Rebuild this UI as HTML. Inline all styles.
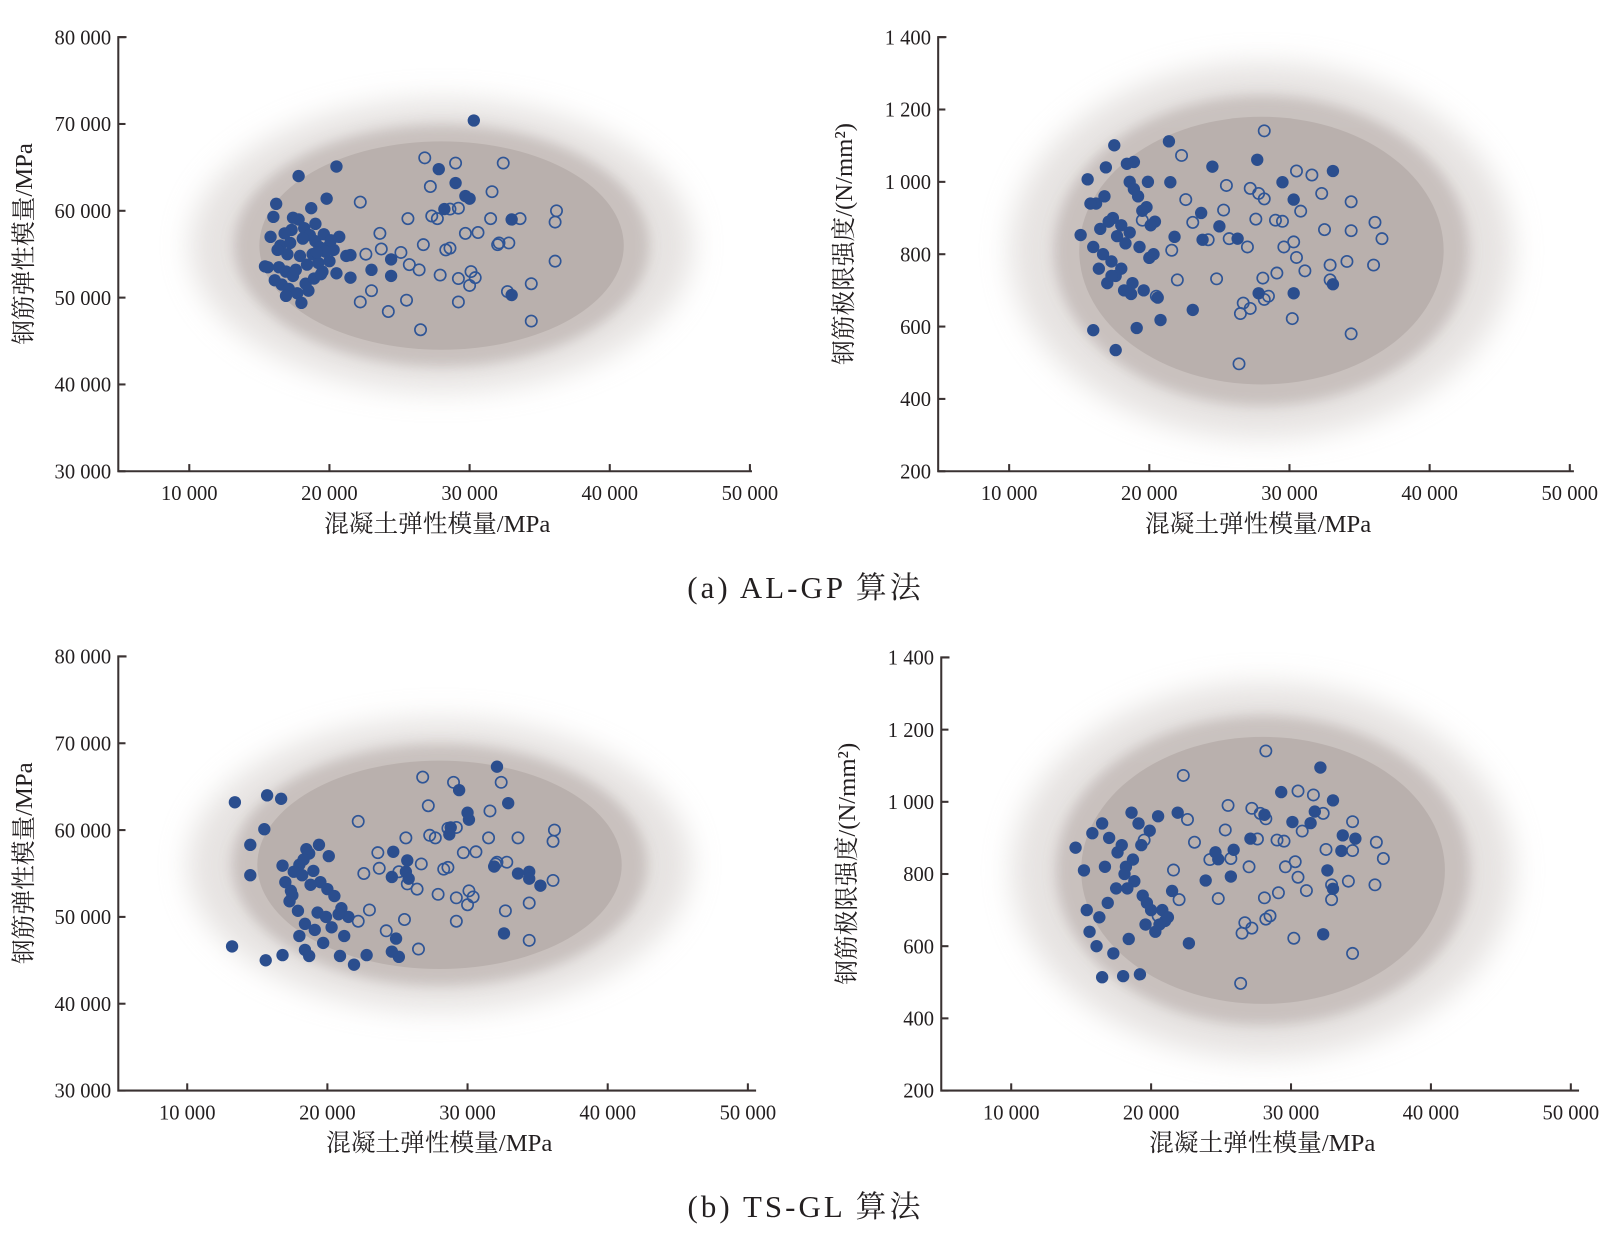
<!DOCTYPE html>
<html><head><meta charset="utf-8"><style>
html,body{margin:0;padding:0;background:#fff;}
svg{display:block;}
text{font-family:"Liberation Serif","Noto Serif CJK SC","Noto Sans CJK SC",serif;fill:#231f20;}
</style></head><body>
<svg id="fig" width="1613" height="1246" viewBox="0 0 1568 1211" xmlns="http://www.w3.org/2000/svg">
<defs>
<filter id="blur1" x="-40%" y="-40%" width="180%" height="180%"><feGaussianBlur stdDeviation="14"/></filter>
<filter id="blur2" x="-30%" y="-30%" width="160%" height="160%"><feGaussianBlur stdDeviation="6"/></filter>
</defs>
<text x="783" y="581" font-size="30" text-anchor="middle" letter-spacing="3">(a) AL-GP 算法</text>
<text x="783" y="1183" font-size="30" text-anchor="middle" letter-spacing="3">(b) TS-GL 算法</text>
</svg>
<script>
// ---- data ----
const xTicks = [10000, 20000, 30000, 40000, 50000];
const xTickLabels = ["10 000", "20 000", "30 000", "40 000", "50 000"];
const yTicksE = [30000, 40000, 50000, 60000, 70000, 80000];
const yTickLabelsE = ["30 000", "40 000", "50 000", "60 000", "70 000", "80 000"];
const yTicksF = [200, 400, 600, 800, 1000, 1200, 1400];
const yTickLabelsF = ["200", "400", "600", "800", "1 000", "1 200", "1 400"];

// test samples (open circles), left panels: concrete E vs steel E
const testEx = [26800,29000,32400,27200,22200,36200,25600,23600,27300,27700,28600,31600,33600,29200,31500,23700,25100,26700,28300,28600,29700,30600,32100,32800,36100,22600,25700,26400,27900,30100,30400,29200,30000,32700,34400,36100,22200,24200,25500,29200,26500,34400,23000,32000];
const testEy = [66100,65500,65500,62800,61000,60000,59100,57400,59400,59100,60200,62200,59100,60300,59100,55600,55200,56100,55500,55700,57400,57500,56300,56300,58700,55000,53800,53200,52600,53000,52300,52200,51400,50700,51600,54200,49500,48400,49700,49500,46300,47300,50800,56100];
// test samples, right panels: concrete E vs steel strength
const testFx = [28200,22300,25500,27200,27800,28200,30500,31600,32300,22600,29000,30800,34400,36100,23100,25300,19500,27600,29500,32500,36600,21600,24200,25700,27000,29600,30300,30500,31100,34100,34400,29100,28100,32900,32900,36000,22000,24800,27200,26500,28500,28200,30200,20500,34400,26400,26700];
const testFy = [1141,1073,990,982,968,953,1030,1019,968,951,894,919,945,888,888,922,894,897,891,868,843,811,840,843,820,820,834,791,754,780,865,748,734,729,770,770,729,732,650,636,684,675,622,684,580,497,665];

// AL-GP selected samples
const aLx = [30300,20500,17800,27800,29000,33000,33000,29700,30000,28200,24400,24400,23000,21500,21500,16200,16000,15800,16500,17000,17300,17800,18200,18600,19000,19300,19600,20000,20300,20700,16400,16900,17400,17900,18400,18800,19200,19700,20100,16600,17100,17700,18300,18900,19500,15600,16300,17200,18100,19000,20000,16800,17600,18500,19400,16100,18000,19800,21200,17400,18700,15400,16900,20500,19100];
const aLy = [70400,65100,64000,64800,63200,59000,50300,61700,61400,60200,54400,52500,53200,54900,52300,60800,59300,57000,56000,55000,57800,59000,58000,57200,56500,55800,57300,56000,55500,57000,53500,53000,52500,54800,53800,55000,54000,55300,56600,51500,51000,50500,51600,52200,53000,53500,55500,56300,56800,58500,54200,57400,53200,50800,52700,52000,49400,61400,54800,59200,60300,53600,50200,52800,55200];
const aRx = [17500,21400,27700,33100,29500,30300,24500,21500,21800,23800,30300,33100,27800,23100,16000,17600,20800,19100,15100,15600,18900,26300,25000,23700,16200,16800,17400,18000,18600,19200,19800,20400,16500,17100,17700,18300,18900,19500,20100,16000,16700,17300,18000,18600,19300,20000,16400,17000,17600,18200,18800,19600,20600,16900,18400,19900,17300,18700,15800,20300];
const aRy = [1101,1112,1061,1030,999,951,1042,999,848,840,692,717,692,646,590,535,618,596,853,1007,1055,843,877,914,940,960,900,880,1000,960,930,890,870,890,850,830,980,920,880,820,800,780,760,860,820,790,760,720,740,700,720,700,680,1040,1050,1000,740,690,940,800];
// TS-GL selected samples
const bLx = [13400,15700,16700,15500,14500,14500,13200,15600,16800,18400,18700,20900,21900,22800,24900,25100,24600,29400,32100,32900,30100,30000,28800,28700,32600,31900,34400,34400,33600,35200,24700,24600,25600,25800,25700,17000,17500,18000,18500,19000,19500,20000,20500,21000,21500,17300,17900,18400,19100,19700,20300,17600,18200,18800,19400,20100,20800,18000,19300,16800,17400,18700,19900,21200,18300];
const bLy = [63200,64000,63600,60100,58300,54800,46600,45000,45600,46200,45500,45500,44500,45600,47500,45400,46000,64600,67300,63100,61200,62000,60300,59500,48100,55800,55200,54400,55000,53600,57500,54600,55200,54400,56500,54000,52500,56000,57800,55300,54000,53200,52400,51000,50000,51800,50700,49200,48500,47000,48800,55200,54800,53700,58300,57000,50300,47800,50500,55900,53000,57300,50000,47800,56600];
const bRx = [32100,29300,33000,31700,31400,28100,33700,34600,33600,32600,33000,32300,30100,27100,25900,24800,24600,25700,23900,21500,22700,21000,16500,18000,19200,14600,15200,15800,18600,21900,16500,17000,17600,18200,18800,19400,20000,20600,16300,16900,17500,18100,18700,19300,19900,20500,15600,16100,17300,18400,19600,20800,16700,17900,19100,20300,15400,18300,19700,21200];
const bRy = [1095,1027,1004,973,941,964,907,898,864,810,759,633,944,898,867,841,860,793,782,753,608,670,514,517,522,873,810,913,970,970,940,900,860,820,780,740,700,660,680,720,760,800,840,880,920,960,640,600,580,620,660,700,820,880,940,640,700,760,720,680];

const NS = "http://www.w3.org/2000/svg";
const svg = document.getElementById('fig');
function mk(tag, attrs, parent) {
  const e = document.createElementNS(NS, tag);
  for (const k in attrs) e.setAttribute(k, attrs[k]);
  parent.appendChild(e);
  return e;
}

const panels = [
  {name:'a-left', x0:115, x1:731, top:36, bot:458, px10:184, px50:729, ymin:30000, ymax:80000, yt:yTicksE, yl:yTickLabelsE, ytitle:'钢筋弹性模量/MPa', cy:56000, ry:12000, tx:testEx, ty:testEy, sx:aLx, sy:aLy},
  {name:'a-right', x0:912, x1:1530, top:36, bot:458, px10:981, px50:1526, ymin:200, ymax:1400, yt:yTicksF, yl:yTickLabelsF, ytitle:'钢筋极限强度/(N/mm²)', cy:810, ry:370, tx:testFx, ty:testFy, sx:aRx, sy:aRy},
  {name:'b-left', x0:115, x1:735, top:638, bot:1060, px10:182, px50:727, ymin:30000, ymax:80000, yt:yTicksE, yl:yTickLabelsE, ytitle:'钢筋弹性模量/MPa', cy:56000, ry:12000, tx:testEx, ty:testEy, sx:bLx, sy:bLy},
  {name:'b-right', x0:915, x1:1535, top:639, bot:1060, px10:983, px50:1527, ymin:200, ymax:1400, yt:yTicksF, yl:yTickLabelsF, ytitle:'钢筋极限强度/(N/mm²)', cy:810, ry:370, tx:testFx, ty:testFy, sx:bRx, sy:bRy},
];

panels.forEach((p, i) => {
  const xs = v => p.px10 + (v - 10000) / 40000 * (p.px50 - p.px10);
  const ys = v => p.bot - (v - p.ymin) / (p.ymax - p.ymin) * (p.bot - p.top);
  const g = mk('g', {}, svg);
  
  
  const cid = 'clip' + i;
  const cp = mk('clipPath', {id: cid}, g);
  mk('rect', {x: p.x0, y: p.top - 5, width: p.x1 - p.x0, height: p.bot - p.top + 5}, cp);

  // candidate sample cloud
  const cloud = mk('g', {'clip-path': 'url(#' + cid + ')'}, g);
  
  
  const cx = xs(28000), cyy = ys(p.cy);
  const rxp = xs(28000 + 13000) - cx, ryp = ys(p.cy) - ys(p.cy + p.ry);
  mk('ellipse', {cx: cx, cy: cyy, rx: rxp * 1.38, ry: ryp * 1.4, fill: '#d6d0ce', opacity: 0.6, filter: 'url(#blur1)'}, cloud);
  mk('ellipse', {cx: cx, cy: cyy, rx: rxp * 1.14, ry: ryp * 1.16, fill: '#c4bcb9', opacity: 0.85, filter: 'url(#blur2)'}, cloud);
  mk('ellipse', {cx: cx, cy: cyy, rx: rxp, ry: ryp, fill: '#b9b0ad'}, cloud);

  // axes
  const axes = mk('g', {stroke: '#3a3232', 'stroke-width': 2, fill: 'none'}, g);
  
  
  mk('path', {d: `M${p.x0 + 8},${p.top} H${p.x0} V${p.bot} H${p.x1}`}, axes);
  p.yt.forEach((v, k) => {
    const y = ys(v);
    mk('line', {x1: p.x0, x2: p.x0 + 7, y1: y, y2: y}, axes);
    const t = mk('text', {x: p.x0 - 7, y: y + 7, 'font-size': 20, 'text-anchor': 'end'}, g);
    t.textContent = p.yl[k];
    
    
  });
  xTicks.forEach((v, k) => {
    const x = xs(v);
    mk('line', {x1: x, x2: x, y1: p.bot, y2: p.bot - 7}, axes);
    const t = mk('text', {x: x, y: p.bot + 28, 'font-size': 20, 'text-anchor': 'middle'}, g);
    t.textContent = xTickLabels[k];
    
    
  });
  const xt = mk('text', {x: (p.x0 + p.x1) / 2 + 2, y: p.bot + 59, 'font-size': 24, 'text-anchor': 'middle'}, g);
  xt.textContent = '混凝土弹性模量/MPa';
  
  
  const ytx = p.x0 - 84, yty = (p.top + p.bot) / 2 - 10;
  const yt = mk('text', {x: ytx, y: yty, 'font-size': 24, 'text-anchor': 'middle', transform: `rotate(-90 ${ytx} ${yty})`}, g);
  yt.textContent = p.ytitle;
  
  

  // test points (open)
  p.tx.forEach((v, k) => {
    const c = mk('circle', {cx: xs(v), cy: ys(p.ty[k]), r: 5.5, fill: 'none', stroke: '#2f5596', 'stroke-width': 1.6}, g);
    
    
  });
  // selected points (filled)
  p.sx.forEach((v, k) => {
    const c = mk('circle', {cx: xs(v), cy: ys(p.sy[k]), r: 6, fill: '#2b4e8e'}, g);
    
    
  });
});
</script>
</body></html>
